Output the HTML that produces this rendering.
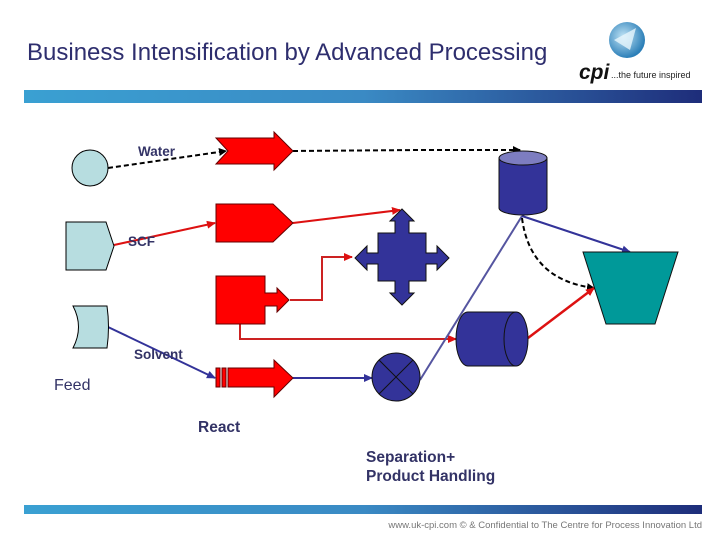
<!DOCTYPE html>
<html><head><meta charset="utf-8"><style>
html,body{margin:0;padding:0;background:#fff;}
svg{display:block;}
</style></head><body>
<svg width="720" height="540" viewBox="0 0 720 540" xmlns="http://www.w3.org/2000/svg" font-family="Liberation Sans, Arial, sans-serif">
<defs>
<linearGradient id="bar" x1="0" x2="1" y1="0" y2="0">
<stop offset="0" stop-color="#3aa0d2"/><stop offset="0.5" stop-color="#3a8ac4"/><stop offset="1" stop-color="#1e2d7a"/>
</linearGradient>
<radialGradient id="globe" cx="0.4" cy="0.4" r="0.6"><stop offset="0" stop-color="#bfe3f5"/><stop offset="1" stop-color="#2c7fb8"/></radialGradient>
<marker id="ak" markerWidth="8" markerHeight="8" refX="7" refY="4" orient="auto" markerUnits="userSpaceOnUse"><path d="M0,0 L8,4 L0,8 z" fill="#000"/></marker>
<marker id="ar" markerWidth="9" markerHeight="8" refX="8" refY="4" orient="auto" markerUnits="userSpaceOnUse"><path d="M0,0 L9,4 L0,8 z" fill="#d11"/></marker>
<marker id="ab" markerWidth="9" markerHeight="8" refX="8" refY="4" orient="auto" markerUnits="userSpaceOnUse"><path d="M0,0 L9,4 L0,8 z" fill="#333399"/></marker>
</defs>

<text x="27" y="60" font-size="24" fill="#2e2e6e">Business Intensification by Advanced Processing</text>
<rect x="24" y="90" width="678" height="13" fill="url(#bar)"/>
<rect x="24" y="505" width="678" height="9" fill="url(#bar)"/>
<text x="702" y="528" font-size="9.5" fill="#777" text-anchor="end">www.uk-cpi.com © &amp; Confidential to The Centre for Process Innovation Ltd</text>

<!-- logo -->
<circle cx="627" cy="40" r="18" fill="url(#globe)"/>
<path d="M614,40 L636,28 L630,50 z" fill="#e8f6fc" opacity="0.8"/>
<text x="579" y="79" font-size="21" font-style="italic" font-weight="bold" fill="#111">cpi</text>
<text x="611" y="78" font-size="9" fill="#222">...the future inspired</text>

<!-- connectors -->
<line x1="108" y1="168" x2="226" y2="151" stroke="#000" stroke-width="2" stroke-dasharray="5,3" marker-end="url(#ak)"/>
<polyline points="293,151 420,150 520,150" fill="none" stroke="#000" stroke-width="2" stroke-dasharray="5,3" marker-end="url(#ak)"/>
<line x1="114" y1="245" x2="215" y2="223" stroke="#d11" stroke-width="2" marker-end="url(#ar)"/>
<line x1="293" y1="223" x2="400" y2="210" stroke="#d11" stroke-width="2" marker-end="url(#ar)"/>
<polyline points="290,300 322,300 322,257 352,257" fill="none" stroke="#c22" stroke-width="2" marker-end="url(#ar)"/>
<polyline points="240,324 240,339 456,339" fill="none" stroke="#c22" stroke-width="2" marker-end="url(#ar)"/>
<line x1="108" y1="327" x2="215" y2="378" stroke="#333399" stroke-width="2" marker-end="url(#ab)"/>
<line x1="293" y1="378" x2="372" y2="378" stroke="#333399" stroke-width="2" marker-end="url(#ab)"/>
<line x1="420" y1="380" x2="522" y2="216" stroke="#5555a0" stroke-width="2"/>
<line x1="522" y1="216" x2="630" y2="252" stroke="#333399" stroke-width="2" marker-end="url(#ab)"/>
<path d="M522,218 Q530,280 594,288" fill="none" stroke="#000" stroke-width="2" stroke-dasharray="5,3" marker-end="url(#ak)"/>
<line x1="528" y1="338" x2="594" y2="288" stroke="#d11" stroke-width="2.5" marker-end="url(#ar)"/>

<!-- feed shapes -->
<circle cx="90" cy="168" r="18" fill="#b7dde0" stroke="#000"/>
<polygon points="66,222 106,222 114,246 106,270 66,270" fill="#b7dde0" stroke="#000"/>
<path d="M73,306 L107,306 Q110,327 107,348 L73,348 Q84,327 73,306 z" fill="#b7dde0" stroke="#000"/>

<!-- react shapes -->
<polygon points="216,138 274,138 274,132 293,151 274,170 274,164 216,164 228,151" fill="#f00" stroke="#600"/>
<polygon points="216,204 273,204 293,223 273,242 216,242" fill="#f00" stroke="#600"/>
<polygon points="216,276 265,276 265,293 277,293 277,288 289,300 277,312 277,306 265,306 265,324 216,324" fill="#f00" stroke="#600"/>
<rect x="216" y="368" width="4" height="19" fill="#f00" stroke="#600"/>
<rect x="222" y="368" width="4" height="19" fill="#f00" stroke="#600"/>
<polygon points="228,368 274,368 274,360 293,378 274,397 274,387 228,387" fill="#f00" stroke="#600"/>

<!-- cross -->
<polygon points="402,209 414,221 409,221 409,233 426,233 426,253 437,253 437,246 449,258 437,270 437,264 426,264 426,281 409,281 409,293 414,293 402,305 390,293 395,293 395,281 378,281 378,264 367,264 367,270 355,258 367,246 367,253 378,253 378,233 395,233 395,221 390,221" fill="#333399" stroke="#111"/>

<!-- vertical cylinder -->
<path d="M499,158 L499,208 A24,7 0 0 0 547,208 L547,158 z" fill="#333399" stroke="#111"/>
<ellipse cx="523" cy="158" rx="24" ry="7" fill="#7d7dc0" stroke="#111"/>

<!-- horizontal cylinder -->
<path d="M468,312 L516,312 L516,366 L468,366 A12,27 0 0 1 468,312 z" fill="#333399" stroke="#111"/>
<ellipse cx="516" cy="339" rx="12" ry="27" fill="#333399" stroke="#111"/>

<!-- circle X -->
<circle cx="396" cy="377" r="24" fill="#333399" stroke="#111"/>
<line x1="379" y1="360" x2="413" y2="394" stroke="#111"/>
<line x1="413" y1="360" x2="379" y2="394" stroke="#111"/>

<!-- trapezoid -->
<polygon points="583,252 678,252 655,324 606,324" fill="#009999" stroke="#111"/>

<!-- labels -->
<g fill="#333366">
<text x="138" y="156" font-size="13.5" font-weight="bold">Water</text>
<text x="128" y="246" font-size="13.5" font-weight="bold">SCF</text>
<text x="134" y="359" font-size="13.5" font-weight="bold">Solvent</text>
<text x="54" y="390" font-size="16">Feed</text>
<text x="198" y="432" font-size="15.5" font-weight="bold">React</text>
<text x="366" y="462" font-size="15.5" font-weight="bold">Separation+</text>
<text x="366" y="481" font-size="15.5" font-weight="bold">Product Handling</text>
</g>
</svg>
</body></html>
